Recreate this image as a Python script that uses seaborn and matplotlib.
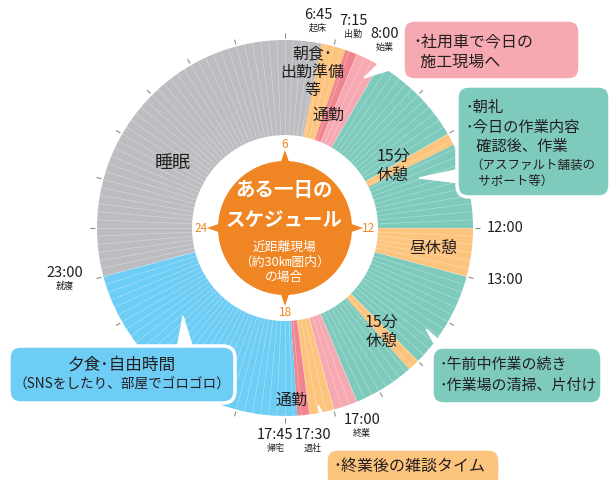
#One day schedule - radial chart
import numpy as np
import matplotlib
matplotlib.use("Agg")
import matplotlib.pyplot as plt
import matplotlib.patches as mpatches
import matplotlib.transforms as mtransforms
import seaborn as sns

#schedule blocks (hours on a 24h clock)
seg_start = [23.0, 6.75, 7.25, 7.5, 8.0, 10.0, 10.25, 12.0, 13.0, 15.0, 15.25, 16.5, 17.0, 17.5, 17.75]
seg_end = [6.75, 7.25, 7.5, 8.0, 10.0, 10.25, 12.0, 13.0, 15.0, 15.25, 16.5, 17.0, 17.5, 17.75, 23.0]
seg_kind = ["sleep", "rest", "commute", "car", "work", "rest", "work", "rest",
            "work", "rest", "work", "car", "rest", "commute", "free"]

ring_labels = ["睡眠", "朝食･\n出勤準備\n等", "通勤", "15分\n休憩", "昼休憩", "15分\n休憩", "通勤"]
time_labels = ["6:45", "7:15", "8:00", "12:00", "13:00", "17:00", "17:30", "17:45", "23:00"]
time_notes = ["起床", "出勤", "始業", "", "", "終業", "退社", "帰宅", "就寝"]
dial_hours = [6, 12, 18, 24]
dial_labels = ["6", "12", "18", "24"]

kind_colors = {
    "sleep": "#bcbdc0",
    "rest": "#fdc47d",
    "commute": "#f0858f",
    "car": "#f6a9b0",
    "work": "#7ecabd",
    "free": "#6dcdf5",
}
center_orange = "#f08523"
ink = "#231f20"

sns.set_theme(style="white")
plt.rcParams["font.family"] = ["Noto Sans CJK JP", "DejaVu Sans"]

W, H = 616, 480
fig = plt.figure(figsize=(W / 100, H / 100), dpi=100)
fig.patch.set_facecolor("white")
#pixel coords, origin top-left
pix = mtransforms.Affine2D().scale(1 / 100, -1 / 100).translate(0, H / 100) + fig.dpi_scale_trans

CX, CY, RMAX = 285, 228, 200
R_IN, R_OUT = 93, 188
ax = fig.add_axes([(CX - RMAX) / W, (H - CY - RMAX) / H, 2 * RMAX / W, 2 * RMAX / H],
                  projection="polar")
ax.set_theta_zero_location("W")
ax.set_theta_direction(-1)
ax.set_ylim(0, RMAX)
ax.axis("off")


def to_theta(h):
    return np.asarray(h) / 24 * 2 * np.pi


#ring of activities
for s, e, k in zip(seg_start, seg_end, seg_kind):
    dur = (e - s) % 24
    ax.bar(to_theta(s), R_OUT - R_IN, width=to_theta(dur), bottom=R_IN,
           align="edge", color=kind_colors[k], linewidth=0)

#10 minute slices
minutes = to_theta(np.arange(0, 24, 1 / 6))
ax.vlines(minutes, R_IN, R_OUT, color="white", lw=0.45, alpha=0.4)
#hour ticks
ax.vlines(to_theta(np.arange(24)), R_OUT + 2, R_OUT + 7, color="#8c8c8c", lw=0.8)

#centre dial
ax.bar(0, 67, width=2 * np.pi, bottom=0, color=center_orange, linewidth=0, align="edge")
for h, lab in zip(dial_hours, dial_labels):
    th = float(to_theta(h))
    ax.fill([th - 0.09, th, th + 0.09], [62, 78, 62], color=center_orange, lw=0)
    ax.text(th, 84, lab, ha="center", va="center", color=center_orange, fontsize=8.5)

fig.text(284, 191, "ある一日の", transform=pix, ha="center", va="center",
         color="white", fontsize=14, fontweight="bold")
fig.text(284, 220, "スケジュール", transform=pix, ha="center", va="center",
         color="white", fontsize=14, fontweight="bold")
for y, s in zip([247, 262, 277], ["近距離現場", "（約30㎞圏内）", "の場合"]):
    fig.text(284, y, s, transform=pix, ha="center", va="center", color="white", fontsize=9.2)

#labels inside the ring
ring_xy = [(173, 163), (312, 72), (329, 115), (393, 166), (433, 248), (382, 332), (292, 400)]
for (x, y), s in zip(ring_xy, ring_labels):
    fig.text(x, y, s, transform=pix, ha="center", va="center", color=ink,
             fontsize=13 if s == "睡眠" else 11.5, linespacing=1.1)

#time labels round the outside
time_xy = [(318, 15), (353, 21), (385, 34), (505, 228), (505, 280),
           (362, 420), (313, 435), (275, 435), (65, 273)]
for (x, y), t, n in zip(time_xy, time_labels, time_notes):
    fig.text(x, y, t, transform=pix, ha="center", va="center", color=ink, fontsize=10.5)
    if n:
        fig.text(x, y + 13, n, transform=pix, ha="center", va="center", color=ink, fontsize=6.5)

#callouts: (x, y, w, h), colour, pointer triangle
callouts = [
    ((403, 20, 177, 60), kind_colors["car"], [(364, 78), (384, 58), (408, 64)]),
    ((457, 86, 153, 111), kind_colors["work"], [(419, 178), (460, 169), (460, 183)]),
    ((432, 347, 170, 57), kind_colors["work"], [(426, 329), (438, 350), (450, 350)]),
    ((326, 449, 174, 40), kind_colors["rest"], [(318, 405), (328, 452), (344, 452)]),
    ((9, 346, 226, 57), kind_colors["free"], [(183, 316), (177, 349), (193, 349)]),
]
for (x, y, w, h), col, tri in callouts:
    fig.add_artist(mpatches.Polygon(tri, closed=True, transform=pix, facecolor="white",
                                    edgecolor="white", lw=1, zorder=1))
    fig.add_artist(mpatches.FancyBboxPatch((x, y), w, h, transform=pix,
                                           boxstyle="round,pad=0,rounding_size=12",
                                           facecolor=col, edgecolor="white", lw=2.5, zorder=2))

fig.text(413, 42, "･社用車で今日の", transform=pix, va="center", color=ink, fontsize=11.5)
fig.text(413, 62, "  施工現場へ", transform=pix, va="center", color=ink, fontsize=11.5)

fig.text(466, 107, "･朝礼", transform=pix, va="center", color=ink, fontsize=11)
fig.text(466, 127, "･今日の作業内容", transform=pix, va="center", color=ink, fontsize=11)
fig.text(466, 146, "   確認後、作業", transform=pix, va="center", color=ink, fontsize=11)
fig.text(470, 165, "（アスファルト舗装の", transform=pix, va="center", color=ink, fontsize=9)
fig.text(470, 182, "   サポート等）", transform=pix, va="center", color=ink, fontsize=9)

fig.text(439, 365, "･午前中作業の続き", transform=pix, va="center", color=ink, fontsize=10.8)
fig.text(439, 386, "･作業場の清掃、片付け", transform=pix, va="center", color=ink, fontsize=10.8)

fig.text(333, 466, "･終業後の雑談タイム", transform=pix, va="center", color=ink, fontsize=11.5)

fig.text(122, 365, "夕食･自由時間", transform=pix, ha="center", va="center", color=ink, fontsize=12)
fig.text(122, 385, "（SNSをしたり、部屋でゴロゴロ）", transform=pix, ha="center", va="center",
         color=ink, fontsize=9.8)

fig.savefig("out.png", dpi=100, facecolor="white")
